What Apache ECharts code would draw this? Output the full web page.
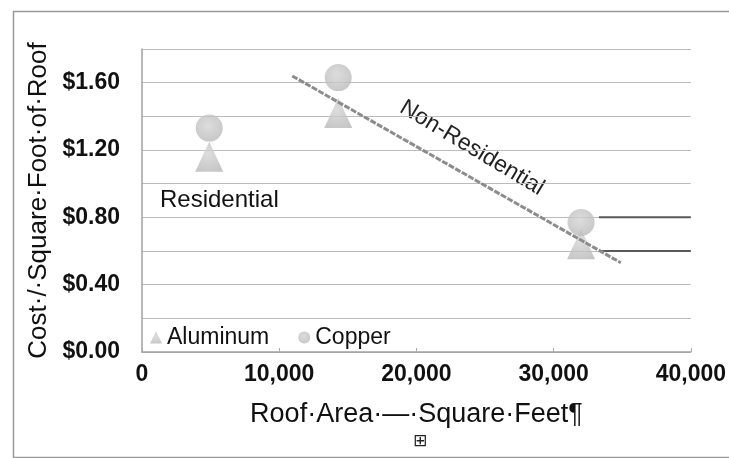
<!DOCTYPE html>
<html><head><meta charset="utf-8">
<script src="https://cdn.jsdelivr.net/npm/echarts@6/dist/echarts.min.js"></script>
<style>html,body{margin:0;padding:0;background:#fff}#c{width:729px;height:458px}</style>
</head><body><div id="c"></div>
<script>
const xTicks = [0, 10000, 20000, 30000, 40000];
const aluminum = [[4900, 1.16], [14300, 1.42], [32000, 0.64]];
const copper = [[4900, 1.33], [14300, 1.63], [32000, 0.77]];
const trend = [[10950, 1.64], [34900, 0.53]];
const refLine1 = [[33300, 0.80], [40000, 0.80]];
const refLine2 = [[33300, 0.60], [40000, 0.60]];
const yTitle = 'Cost·/·Square·Foot·of·Roof';
const xTitle = 'Roof·Area·—·Square·Feet¶';

const font = 'Liberation Sans, Arial, sans-serif';
const markColor = new echarts.graphic.RadialGradient(0.45, 0.4, 0.7, [
  {offset: 0, color: '#d4d4d4'}, {offset: 1, color: '#b6b6b6'}]);

const chart = echarts.init(document.getElementById('c'), null, {renderer: 'canvas'});
chart.setOption({
  backgroundColor: '#fff',
  animation: false,
  grid: {left: 142, right: 36, top: 49, bottom: 106, containLabel: false},
  xAxis: {
    type: 'value', min: 0, max: 40000, interval: 10000,
    axisLine: {show: true, lineStyle: {color: '#a0a0a0', width: 1.5}},
    axisTick: {show: true, inside: true, length: 4, lineStyle: {color: '#aaa'}},
    splitLine: {show: false},
    axisLabel: {color: '#111', fontSize: 23, fontWeight: 'bold', fontFamily: font, margin: 11,
      formatter: v => v === 0 ? '0' : v.toLocaleString('en-US')},
    name: xTitle, nameLocation: 'middle', nameGap: 49,
    nameTextStyle: {color: '#111', fontSize: 27, fontFamily: font}
  },
  yAxis: {
    type: 'value', min: 0, max: 1.8, interval: 0.2,
    axisLine: {show: true, lineStyle: {color: '#a0a0a0', width: 1.5}},
    axisTick: {show: false},
    splitLine: {show: true, lineStyle: {color: '#bcbcbc', width: 1.2}},
    axisLabel: {color: '#111', fontSize: 23, fontWeight: 'bold', fontFamily: font, margin: 22,
      formatter: v => {
        const k = Math.round(v * 10);
        return k % 4 === 0 ? '$' + v.toFixed(2) : '';
      }},
    name: yTitle, nameLocation: 'middle', nameGap: 85, nameRotate: 90,
    nameTextStyle: {color: '#111', fontSize: 26, fontFamily: font}
  },
  legend: {
    left: 150, top: 326, orient: 'horizontal', itemGap: 29,
    itemWidth: 12, itemHeight: 12, padding: 0,
    textStyle: {color: '#111', fontSize: 23, fontFamily: font},
    data: [{name: 'Aluminum', icon: 'triangle'}, {name: 'Copper', icon: 'circle'}]
  },
  series: [
    {name: 'Copper', type: 'scatter', data: copper, symbol: 'circle', symbolSize: 27,
      itemStyle: {color: markColor}, z: 3},
    {name: 'Aluminum', type: 'scatter', data: aluminum, symbol: 'triangle', symbolSize: [28, 30],
      itemStyle: {color: markColor}, z: 2},
    {name: 'trend', type: 'line', data: trend, symbol: 'none', z: 4,
      lineStyle: {color: '#8c8c8c', width: 3, type: [6, 1.5]}},
    {name: 'ref1', type: 'line', data: refLine1, symbol: 'none', z: 1,
      lineStyle: {color: '#5a5a5a', width: 2}},
    {name: 'ref2', type: 'line', data: refLine2, symbol: 'none', z: 1,
      lineStyle: {color: '#5a5a5a', width: 2}}
  ],
  graphic: [
    {type: 'rect', left: 11, top: 9, silent: true,
      shape: {width: 730, height: 446},
      style: {fill: 'none', stroke: '#9a9a9a', lineWidth: 1.5}, z: -1},
    {type: 'text', x: 160, y: 200,
      style: {text: 'Residential', fontSize: 24, fontFamily: font, fill: '#111',
        verticalAlign: 'middle'}},
    {type: 'text', x: 472, y: 148, rotation: -31 * Math.PI / 180,
      style: {text: 'Non-Residential', fontSize: 23, fontFamily: font, fill: '#222',
        align: 'center', verticalAlign: 'middle'}},
    {type: 'text', x: 420, y: 442,
      style: {text: '⊞', fontSize: 17, fontFamily: 'DejaVu Sans', fill: '#222',
        align: 'center', verticalAlign: 'middle'}}
  ]
});
</script></body></html>
